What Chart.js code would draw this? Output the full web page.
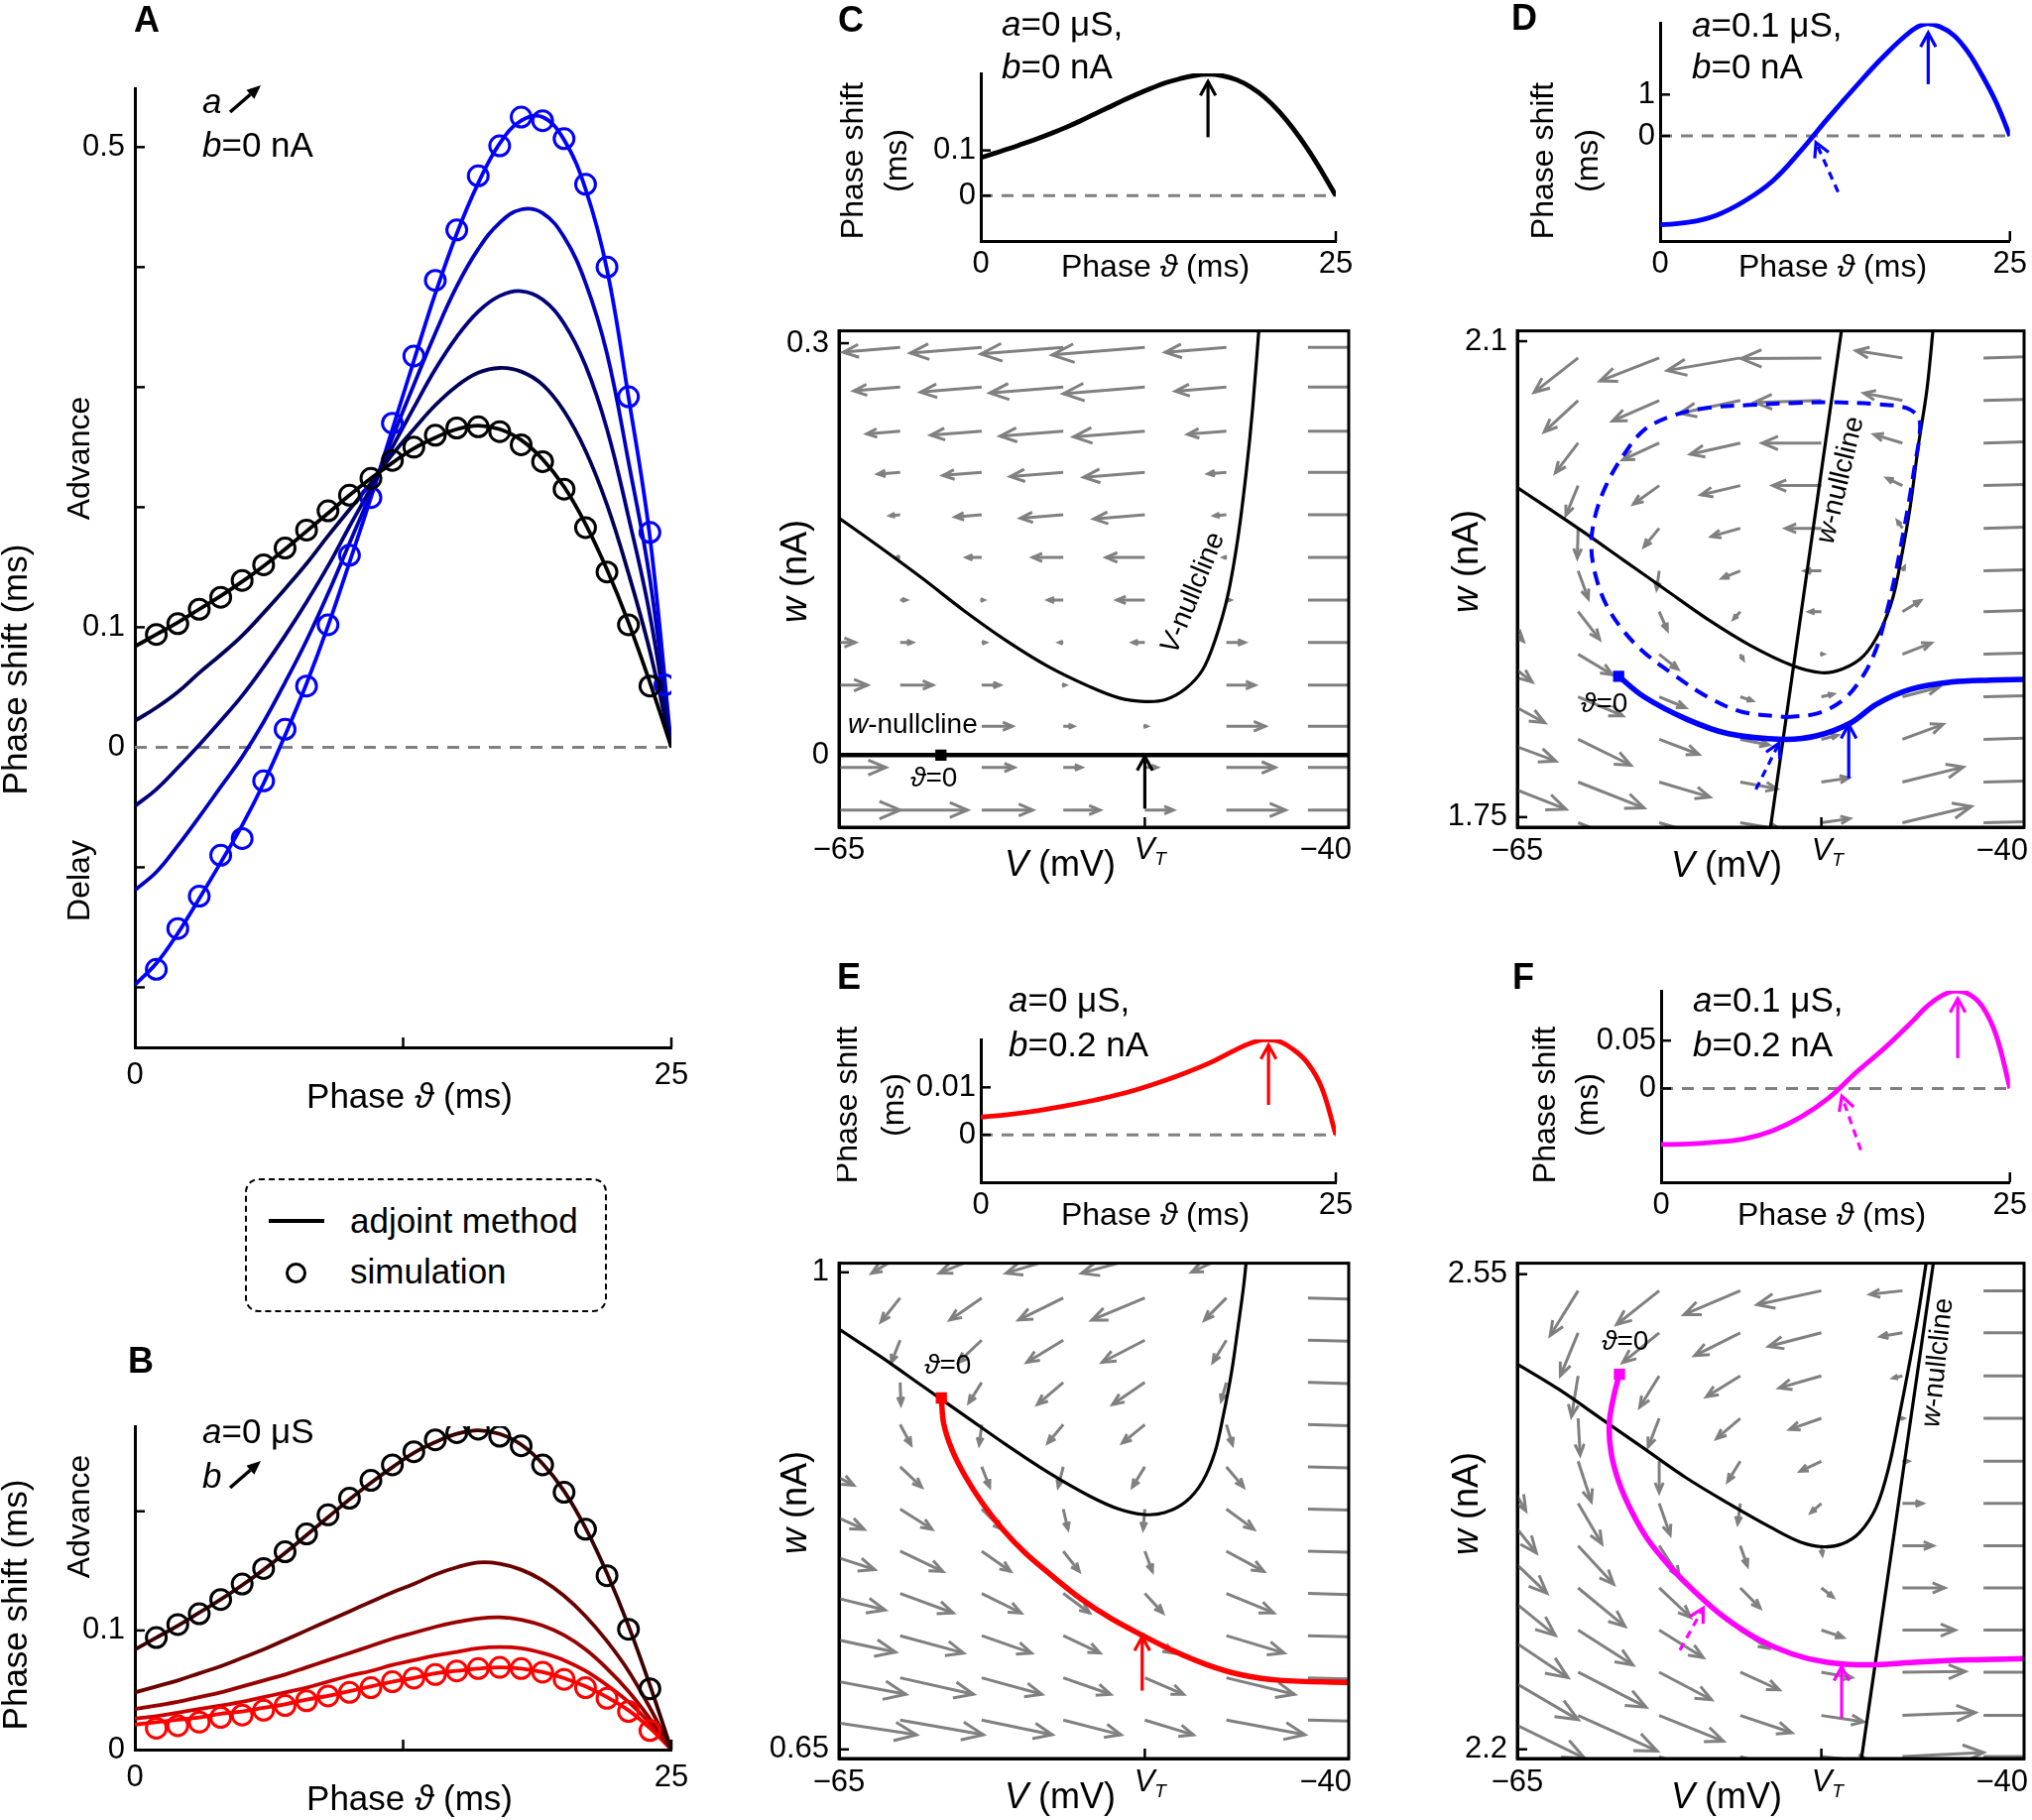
<!DOCTYPE html>
<html>
<head>
<meta charset="utf-8">
<title>Phase response curves and phase planes</title>
<script src="https://cdn.jsdelivr.net/npm/chart.js@4.4.1/dist/chart.umd.min.js"></script>
<style>
  html, body { margin: 0; padding: 0; background: #fff; }
  body { position: relative; width: 2049px; height: 1835px; overflow: hidden;
         font-family: "Liberation Sans", Arial, Helvetica, sans-serif; }
  canvas { position: absolute; }
  .tag { position: absolute; font-weight: bold; font-size: 36px; line-height: 36px; z-index: 5; }
  .ltxt { position: absolute; font-size: 35px; line-height: 35px; z-index: 5; white-space: nowrap; }
  #legend { position: absolute; left: 247px; top: 1188px; width: 365px; height: 135px; box-sizing: border-box;
            border: 2.5px dashed #000; border-radius: 14px; z-index: 4; }
  #legLine { position: absolute; left: 271px; top: 1229px; width: 56px; height: 4px; background: #000; z-index: 5; }
  #legRing { position: absolute; left: 288px; top: 1273px; width: 21px; height: 21px; box-sizing: border-box;
             border: 3px solid #000; border-radius: 50%; z-index: 5; }
</style>
</head>
<body>
<div class="tag" style="left:135px;top:2px">A</div>
<div class="tag" style="left:129px;top:1354px">B</div>
<div class="tag" style="left:845px;top:2px">C</div>
<div class="tag" style="left:1524px;top:0px">D</div>
<div class="tag" style="left:844px;top:967px">E</div>
<div class="tag" style="left:1525px;top:967px">F</div>

<div id="legend"></div>
<div id="legLine"></div>
<div id="legRing"></div>
<div class="ltxt" style="left:353px;top:1213px">adjoint method</div>
<div class="ltxt" style="left:353px;top:1264px">simulation</div>

<script>
// ---------- phase response curves (A, B, top of C-F) ----------
const phaseMs = [0,1,2,3,4,5,6,7,8,9,10,11,12,13,14,15,16,17,18,19,20,21,22,23,24,25];
const simPhase = [1,2,3,4,5,6,7,8,9,10,11,12,13,14,15,16,17,18,19,20,21,22,23,24];
const simPhaseA4 = [1,2,3,4,5,6,7,8,9,10,11,12,13,14,15,16,17,18,19,20,21,22,23,24,24.7];

// A: a increases, b = 0 nA
const shiftA0 = [0.084,0.094,0.104,0.115,0.126,0.138,0.151,0.165,0.180,0.195,0.210,0.224,0.237,0.249,0.258,0.265,0.268,0.265,0.256,0.240,0.217,0.186,0.148,0.104,0.054,0];
const shiftA1 = [0.022,0.033,0.046,0.062,0.077,0.093,0.112,0.132,0.153,0.176,0.198,0.220,0.244,0.265,0.285,0.301,0.312,0.316,0.313,0.302,0.280,0.247,0.202,0.145,0.080,0];
const shiftA2 = [-0.049,-0.035,-0.017,0.002,0.022,0.043,0.067,0.093,0.121,0.151,0.184,0.216,0.250,0.283,0.315,0.342,0.363,0.376,0.380,0.373,0.353,0.318,0.265,0.192,0.110,0];
const shiftA3 = [-0.119,-0.104,-0.082,-0.058,-0.033,-0.008,0.021,0.054,0.089,0.128,0.170,0.212,0.258,0.302,0.345,0.384,0.415,0.437,0.448,0.445,0.425,0.387,0.328,0.238,0.140,0];
const shiftA4 = [-0.198,-0.180,-0.155,-0.126,-0.096,-0.065,-0.030,0.010,0.053,0.101,0.154,0.208,0.265,0.322,0.378,0.428,0.470,0.503,0.522,0.525,0.506,0.465,0.398,0.292,0.175,0];
const simA0 = [0.094,0.103,0.115,0.125,0.139,0.152,0.166,0.181,0.197,0.210,0.224,0.239,0.250,0.260,0.266,0.267,0.263,0.252,0.238,0.215,0.183,0.146,0.102,0.051];
const simA4 = [-0.185,-0.151,-0.124,-0.090,-0.076,-0.028,0.015,0.051,0.102,0.160,0.208,0.270,0.326,0.389,0.431,0.476,0.501,0.525,0.522,0.507,0.469,0.400,0.292,0.179,0.052];

// B: a = 0 uS, b increases
const shiftB1 = [0.048,0.053,0.058,0.064,0.070,0.077,0.084,0.092,0.100,0.108,0.116,0.124,0.132,0.139,0.147,0.153,0.157,0.156,0.151,0.142,0.129,0.112,0.091,0.066,0.035,0];
const shiftB2 = [0.034,0.037,0.040,0.044,0.048,0.053,0.058,0.063,0.069,0.075,0.081,0.087,0.093,0.098,0.103,0.107,0.110,0.111,0.109,0.104,0.096,0.084,0.068,0.049,0.026,0];
const shiftB3 = [0.026,0.028,0.031,0.034,0.037,0.040,0.044,0.048,0.052,0.057,0.062,0.066,0.071,0.075,0.079,0.082,0.085,0.086,0.085,0.081,0.075,0.066,0.054,0.040,0.022,0];
const shiftB4 = [0.021,0.023,0.025,0.027,0.030,0.032,0.035,0.038,0.042,0.045,0.049,0.053,0.057,0.060,0.064,0.066,0.068,0.069,0.068,0.065,0.060,0.053,0.044,0.033,0.018,0];
const simB0 = [0.094,0.105,0.114,0.126,0.139,0.152,0.166,0.181,0.197,0.211,0.226,0.239,0.250,0.260,0.266,0.269,0.263,0.255,0.239,0.216,0.185,0.146,0.101,0.051];
const simB4 = [0.018,0.020,0.023,0.027,0.029,0.033,0.037,0.041,0.045,0.048,0.052,0.057,0.060,0.063,0.066,0.068,0.069,0.068,0.065,0.059,0.052,0.043,0.032,0.016];

// small PRCs above the phase planes (C uses shiftA0)
const phaseTop = [0,2,4,6,8,10,12,14,16,18,19,20,21,22,23,24,25];
const shiftD = [-2.15,-2.09,-1.92,-1.58,-1.10,-0.38,0.43,1.20,1.93,2.55,2.71,2.64,2.43,2.03,1.47,0.82,0];
const shiftE = [0.0037,0.0043,0.0051,0.0061,0.0073,0.0087,0.0105,0.0126,0.0150,0.0180,0.0193,0.0201,0.0197,0.0180,0.0152,0.0100,0];
const shiftF = [-0.0585,-0.0580,-0.0560,-0.0525,-0.0440,-0.0300,-0.0100,0.0170,0.0420,0.0700,0.0850,0.0960,0.1015,0.0990,0.0860,0.0560,0];
// arrows on the small PRCs: [x0, y0, x1, y1]
const peakC = [16.0, 0.129, 16.0, 0.252];
const peakD = [19.16, 1.25, 19.16, 2.49];
const zeroD = [12.72, -1.355, 11.14, -0.16];
const peakE = [20.26, 0.0063, 20.26, 0.0189];
const peakF = [21.26, 0.0317, 21.26, 0.094];
const zeroF = [14.31, -0.0644, 12.95, -0.0081];

// ---------- phase planes ----------
const gridV = [-66,-62,-58,-54,-50,-46,-42];

const vnullC_V = [-65,-62.95,-60.9,-58.85,-56.8,-54.75,-52.7,-51.27,-50,-49.0,-48.0,-47.17,-46.56,-45.94,-45.43,-45.02,-44.71,-44.33];
const vnullC_w = [0.1727,0.151,0.1286,0.105,0.0834,0.0646,0.0498,0.0417,0.039,0.0403,0.0484,0.062,0.0834,0.1157,0.1587,0.207,0.253,0.325];
const wnullC_V = [-65,-40];
const wnullC_w = [0,0];
const startC = [-60, 0];
const pushC = [-50, -0.039, -50, -0.001];
const gridC_w = [0.297,0.268,0.236,0.206,0.175,0.144,0.113,0.082,0.051,0.021,-0.009,-0.040];
const fieldC_dV = [
  [0,-2.79,-3.5,-4.04,-4.55,-3.0,6],
  [0,-2.27,-3.0,-3.6,-4.0,-2.5,6],
  [0,-1.64,-2.5,-3.1,-3.5,-1.9,6],
  [0,-1.1,-1.9,-2.6,-3.0,-0.9,6],
  [0,-0.5,-1.3,-2.1,-2.5,-0.6,6],
  [0,-0.2,-0.75,-1.5,-1.9,-0.15,6],
  [0.3,0.3,0.1,-0.75,-1.37,0.2,6],
  [1.8,0.6,0.2,-0.2,-0.6,0.9,6],
  [2.4,1.6,0.9,0.1,0,1.4,6],
  [0,0,1.5,0.5,0.1,1.9,6],
  [3.3,0,1.6,0.9,0.6,2.4,6],
  [4.0,3.3,2.5,1.8,1.4,2.9,6]
];
const fieldC_dw = [
  [0,-0.0035,-0.0042,-0.0048,-0.0055,-0.0036,0],
  [0,-0.0027,-0.0036,-0.0043,-0.0048,-0.003,0],
  [0,-0.002,-0.003,-0.0037,-0.0042,-0.0023,0],
  [0,-0.0013,-0.0023,-0.0031,-0.0036,-0.0011,0],
  [0,-0.0006,-0.0016,-0.0025,-0.003,-0.0007,0],
  [0,0,0,0,0,0,0],[0,0,0,0,0,0,0],[0,0,0,0,0,0,0],[0,0,0,0,0,0,0],
  [0,0,0,0,0,0,0],[0,0,0,0,0,0,0],[0,0,0,0,0,0,0]
];

const vnullD_V = [-65,-61.875,-59.79,-57.71,-55.625,-53.54,-51.46,-50,-48.96,-47.92,-47.08,-46.46,-46.04,-45.625,-45.21,-44.79,-44.45];
const vnullD_w = [1.9924,1.9611,1.9393,1.9175,1.8957,1.8766,1.8617,1.8562,1.8589,1.8685,1.8875,1.912,1.942,1.9774,2.0237,2.0646,2.115];
const wnullD_V = [-52.58,-48.94];
const wnullD_w = [1.735,2.115];
const loopD_V = [-51.77,-50.21,-48.96,-48.02,-47.29,-46.77,-46.35,-46.0,-45.67,-45.375,-45.15,-45.21,-45.83,-47.29,-49.375,-51.46,-53.54,-55.625,-57.29,-58.75,-59.79,-60.625,-61.15,-61.35,-61.15,-60.625,-59.79,-58.75,-57.29,-55.625,-53.96,-51.77];
const loopD_w = [1.8235,1.8262,1.8358,1.8521,1.8739,1.9011,1.9284,1.9556,1.9829,2.0101,2.0319,2.0442,2.051,2.0537,2.0551,2.0545,2.0531,2.051,2.0455,2.0346,2.0156,1.9938,1.972,1.9502,1.9284,1.9066,1.8875,1.8712,1.8548,1.8385,1.8276,1.8235];
const trajD_V = [-60.0,-58.75,-56.67,-54.58,-51.875,-50.21,-48.54,-47.29,-45.625,-43.54,-41.67,-40];
const trajD_w = [1.8535,1.8385,1.8222,1.8113,1.8072,1.8099,1.8194,1.8330,1.8439,1.8494,1.8508,1.8513];
const startD = [-60.0, 1.8535];
const pushD = [-48.65, 1.7786, -48.65, 1.8181];
const pushDzero = [-53.23, 1.7704, -52.08, 1.8045];
const gridD_w = [2.0877,2.0564,2.0251,1.9938,1.9624,1.9311,1.9011,1.8698,1.8385,1.8072,1.7758,1.7459];
const fieldD_dV = [
  [0,-2.17,-2.92,-3.6,-3.96,-2.3,5],
  [0,-1.67,-2.3,-2.98,-3.3,-1.9,5],
  [0,-1.12,-1.8,-2.46,-2.92,-1.4,5],
  [0,-0.6,-1.27,-1.94,-2.4,-0.77,5],
  [0,-0.04,-0.75,-1.42,-1.77,-0.25,5],
  [0.5,0.5,-0.125,-0.9,-0.83,0.1,5],
  [1.3,1.06,0.4,-0.33,-0.6,0.9,5],
  [1.73,1.69,0.92,0.15,0.1,1.42,5],
  [2.35,2.2,1.3,0.6,0.6,1.8,5],
  [2.9,2.6,1.95,1.4,0.8,2.0,5],
  [3.4,3.25,2.5,1.8,1.35,3.0,5],
  [3.9,3.5,2.8,2.0,1.4,3.4,5]
];
const fieldD_dw = [
  [0,-0.0253,-0.0169,-0.0093,-0.0005,0.0054,0.002],
  [0,-0.023,-0.015,-0.0095,-0.0014,0.0054,0.002],
  [0,-0.0218,-0.0123,-0.0082,0,0.0063,0.002],
  [0,-0.0218,-0.0136,-0.0068,0,0.0054,0.002],
  [0,-0.0218,-0.0136,-0.006,0,0.0054,0.002],
  [-0.02,-0.0204,-0.0136,-0.0054,0,0.003,0.002],
  [-0.0218,-0.0204,-0.0136,-0.0054,0,0.0082,0.002],
  [-0.0204,-0.015,-0.0109,-0.004,0,0.0082,0.002],
  [-0.019,-0.014,-0.008,-0.003,0.002,0.007,0.002],
  [-0.016,-0.019,-0.011,-0.004,0.003,0.011,0.002],
  [-0.02,-0.019,-0.011,-0.005,0.003,0.011,0.002],
  [-0.022,-0.02,-0.012,-0.005,0.003,0.012,0.002]
];

const vnullE_V = [-65,-62.95,-60.9,-58.85,-56.8,-54.75,-52.7,-51.27,-50.04,-49.02,-47.99,-47.17,-46.56,-46.15,-45.74,-45.43,-45.16,-44.98];
const vnullE_w = [0.9583,0.9381,0.9165,0.8950,0.8735,0.8533,0.8358,0.8263,0.8223,0.8237,0.8317,0.8465,0.8681,0.8950,0.9273,0.9596,0.9892,1.015];
const trajE_V = [-59.98,-59.86,-59.45,-58.81,-58.0,-57.02,-55.89,-54.59,-53.13,-51.67,-50.13,-48.59,-46.97,-45.35,-43.4,-40.0];
const trajE_w = [0.9078,0.8887,0.8696,0.8505,0.8314,0.8123,0.7944,0.7778,0.7604,0.7461,0.7337,0.7222,0.7122,0.7050,0.7007,0.6991];
const startE = [-59.98, 0.9078];
const pushE = [-50.13, 0.6931, -50.13, 0.7326];
const gridE_w = [1.0121,0.9812,0.9502,0.9192,0.8883,0.8573,0.8263,0.7954,0.7644,0.7334,0.7025,0.6715];
const fieldE_dV = [
  [0,-1.39,-2.07,-2.8,-3.1,-1.7,5],
  [0,-0.94,-1.56,-2.19,-2.6,-1.07,5],
  [0,-0.43,-1.15,-1.78,-2.09,-0.66,5],
  [0,0.04,-0.63,-1.27,-1.58,-0.25,5],
  [0.9,0.53,-0.12,-0.76,-1.1,0.3,5],
  [1.72,1.05,0.39,-0.25,-0.61,0.84,5],
  [2.23,1.56,1.0,0.23,-0.08,1.35,5],
  [2.75,2.09,1.41,0.78,0.37,1.84,5],
  [3.26,2.6,1.93,1.29,0.88,2.32,5],
  [3.77,3.11,2.44,1.8,1.39,2.83,5],
  [4.28,3.6,2.95,2.32,1.9,3.34,5],
  [4.8,4.08,3.46,2.83,2.38,3.85,5]
];
const fieldE_dw = [
  [0,-0.0127,-0.0127,-0.0127,-0.0127,-0.012,-0.002],
  [0,-0.0175,-0.0162,-0.0162,-0.0162,-0.0162,-0.002],
  [0,-0.0162,-0.0162,-0.0162,-0.0162,-0.0162,-0.002],
  [0,-0.0162,-0.0148,-0.0162,-0.0162,-0.0135,-0.002],
  [-0.015,-0.0148,-0.0148,-0.0135,-0.0135,-0.0148,-0.002],
  [-0.0135,-0.0148,-0.0148,-0.0148,-0.0148,-0.0148,-0.002],
  [-0.0148,-0.0148,-0.0148,-0.0148,-0.0148,-0.0148,-0.002],
  [-0.0135,-0.0148,-0.0148,-0.0148,-0.0148,-0.0148,-0.002],
  [-0.0121,-0.0143,-0.0143,-0.0143,-0.0143,-0.0143,-0.002],
  [-0.0121,-0.0127,-0.0127,-0.0127,-0.0127,-0.0127,-0.002],
  [-0.0121,-0.0121,-0.0121,-0.0121,-0.0121,-0.0121,-0.002],
  [-0.0108,-0.0108,-0.0108,-0.0108,-0.0108,-0.0108,-0.002]
];

const vnullF_V = [-65,-62.92,-60.83,-58.75,-56.67,-54.58,-52.5,-51.04,-49.9,-48.96,-48.125,-47.29,-46.67,-46.15,-45.625,-45.21,-44.76];
const vnullF_w = [2.4838,2.4649,2.4432,2.4216,2.4000,2.3811,2.3635,2.3527,2.3492,2.3514,2.3595,2.3784,2.4081,2.4459,2.4865,2.5216,2.565];
const wnullF_V = [-48.1,-44.4];
const wnullF_w = [2.185,2.566];
const trajF_V = [-59.96,-60.21,-60.46,-60.375,-60.0,-59.375,-58.54,-57.5,-56.25,-54.79,-53.125,-51.46,-49.79,-47.71,-45.21,-42.71,-40];
const trajF_w = [2.4762,2.4622,2.4405,2.4189,2.3973,2.3757,2.3541,2.3351,2.3162,2.2973,2.2811,2.2703,2.2643,2.2622,2.2643,2.2659,2.2668];
const startF = [-59.96, 2.4762];
const pushF = [-49.0, 2.223, -49.0, 2.2608];
const pushFzero = [-56.98, 2.273, -55.83, 2.304];
const gridF_w = [2.5378,2.5068,2.4751,2.4438,2.4122,2.3811,2.35,2.3189,2.2878,2.2568,2.2249,2.1946];
const fieldF_dV = [
  [0,-1.375,-2.1,-2.77,-3.17,-1.6,4],
  [0,-0.875,-1.8,-2.25,-2.6,-1.08,4],
  [0,-0.33,-0.96,-1.67,-2.08,-0.46,4],
  [0,0.1,-0.54,-1.17,-1.56,0.05,4],
  [1.42,0.65,0,-0.62,-1.04,0.3,4],
  [1.94,1.17,0.54,-0.125,-0.52,1.0,4],
  [2.46,1.75,1.0,0.35,0.05,1.52,4],
  [2.875,2.31,1.54,0.98,0.58,2.08,4],
  [3.5,2.7,2.17,1.4,1.08,2.6,4],
  [4.0,3.35,2.58,1.92,1.5,3.1,4],
  [4.33,3.9,3.17,2.54,2.08,3.6,4],
  [4.6,4.3,3.6,3.0,2.5,4.0,4]
];
const fieldF_dw = [
  [0,-0.033,-0.0249,-0.0176,-0.0103,-0.0027,0],
  [0,-0.0316,-0.022,-0.0168,-0.01,-0.0027,0],
  [0,-0.03,-0.023,-0.0154,-0.0089,-0.0016,0],
  [0,-0.027,-0.021,-0.0149,-0.0081,0,0],
  [-0.0365,-0.0297,-0.023,-0.0149,-0.0073,0,0],
  [-0.0365,-0.0297,-0.023,-0.0149,-0.0068,0,0],
  [-0.035,-0.0284,-0.023,-0.0149,-0.0068,0,0],
  [-0.035,-0.0284,-0.0216,-0.0149,-0.0068,0,0],
  [-0.035,-0.0257,-0.0203,-0.0135,-0.0054,0,0],
  [-0.035,-0.0257,-0.0203,-0.013,-0.004,0.0005,0],
  [-0.0316,-0.0262,-0.019,-0.0127,-0.0046,0.0022,0],
  [-0.03,-0.026,-0.019,-0.012,-0.004,0.003,0]
];

// ---------- drawing helpers ----------
const FONT = '"Liberation Sans", "DejaVu Sans", Arial, sans-serif';
Chart.defaults.font.family = FONT;
const BLUE = '#0000ff', RED = '#ff0000', MAG = '#ff00ff', GREY = '#808080';
const colA = ['#000000','#000058','#000080','#0000c0','#0000ff'];
const colB = ['#3a0000','#6b0000','#990000','#cc0000','#ff0000'];
const SMOOTH = { tension: 0.35 };
const PRC = { tension: 0.4 };

const pts = (xs, ys) => xs.map((v, i) => ({ x: v, y: ys[i] }));
function curve(xs, ys, color, width, more) {
  return Object.assign({ data: pts(xs, ys), showLine: true, borderColor: color, borderWidth: width,
    pointRadius: 0, fill: false, tension: 0, order: 2 }, more || {});
}
function rings(xs, ys, color) {
  return { data: pts(xs, ys), showLine: false, pointStyle: 'circle', pointRadius: 10, borderWidth: 3,
    borderColor: color, backgroundColor: 'rgba(0,0,0,0)', order: 1 };
}
function marker(p, color) {
  return { data: [{ x: p[0], y: p[1] }], showLine: false, pointStyle: 'rect', pointRadius: 8,
    borderWidth: 0, backgroundColor: color, order: 0 };
}

function openArrow(ctx, x0, y0, x1, y1, head, ang, dash) {
  ctx.setLineDash(dash || []);
  ctx.beginPath(); ctx.moveTo(x0, y0); ctx.lineTo(x1, y1); ctx.stroke();
  ctx.setLineDash([]);
  const t = Math.atan2(y1 - y0, x1 - x0);
  ctx.beginPath();
  ctx.moveTo(x1 - head * Math.cos(t - ang), y1 - head * Math.sin(t - ang));
  ctx.lineTo(x1, y1);
  ctx.lineTo(x1 - head * Math.cos(t + ang), y1 - head * Math.sin(t + ang));
  ctx.stroke();
}
function solidArrow(ctx, x0, y0, x1, y1) {
  const t = Math.atan2(y1 - y0, x1 - x0), h = 14, hw = 6;
  const bx = x1 - h * Math.cos(t), by = y1 - h * Math.sin(t);
  ctx.lineWidth = 3.5;
  ctx.beginPath(); ctx.moveTo(x0, y0); ctx.lineTo(bx, by); ctx.stroke();
  ctx.beginPath(); ctx.moveTo(x1, y1);
  ctx.lineTo(bx - hw * Math.sin(t), by + hw * Math.cos(t));
  ctx.lineTo(bx + hw * Math.sin(t), by - hw * Math.cos(t));
  ctx.closePath(); ctx.fill();
}
// *x* = italic, ~x~ = italic subscript
function richText(ctx, str, x, y, size, align, rot) {
  const parts = str.split(/(\*[^*]+\*|~[^~]+~)/).filter(Boolean).map(p =>
    p[0] === '*' ? { t: p.slice(1, -1), it: true, sub: false } :
    p[0] === '~' ? { t: p.slice(1, -1), it: true, sub: true } : { t: p, it: false, sub: false });
  const fontOf = p => (p.it ? 'italic ' : '') + (p.sub ? Math.round(size * 0.62) : size) + 'px ' + FONT;
  ctx.save();
  ctx.translate(x, y);
  if (rot) ctx.rotate(rot * Math.PI / 180);
  ctx.textBaseline = 'middle'; ctx.textAlign = 'left'; ctx.fillStyle = '#000';
  let total = 0;
  parts.forEach(p => { ctx.font = fontOf(p); p.w = ctx.measureText(p.t).width; total += p.w; });
  let cx = align === 'center' ? -total / 2 : align === 'right' ? -total : align === 'first' ? -parts[0].w / 2 : 0;
  parts.forEach(p => { ctx.font = fontOf(p); ctx.fillText(p.t, cx, p.sub ? size * 0.32 : 0); cx += p.w; });
  ctx.restore();
}

const EXTRA = {};
const extras = {
  id: 'extras',
  beforeDatasetsDraw(chart) {
    const e = EXTRA[chart.canvas.id]; if (!e) return;
    const { ctx, chartArea: a, scales: { x, y } } = chart;
    ctx.save();
    ctx.beginPath(); ctx.rect(a.left, a.top, a.right - a.left, a.bottom - a.top); ctx.clip();
    if (e.zero) {
      const py = y.getPixelForValue(0);
      ctx.strokeStyle = GREY; ctx.lineWidth = 3; ctx.setLineDash([12, 9]);
      ctx.beginPath(); ctx.moveTo(a.left, py); ctx.lineTo(a.right, py); ctx.stroke();
      ctx.setLineDash([]);
    }
    if (e.quiver) {
      const q = e.quiver;
      ctx.strokeStyle = GREY; ctx.lineWidth = 3; ctx.lineCap = 'butt';
      q.w.forEach((wv, i) => q.V.forEach((vv, j) => {
        const dv = q.dV[i][j], dw = q.dw[i][j];
        if (dv === 0 && dw === 0) return;
        const x0 = x.getPixelForValue(vv), y0 = y.getPixelForValue(wv);
        const x1 = x.getPixelForValue(vv + dv), y1 = y.getPixelForValue(wv + dw);
        const len = Math.hypot(x1 - x0, y1 - y0);
        openArrow(ctx, x0, y0, x1, y1, Math.min(0.24 * len + 3, 24), 0.4);
      }));
    }
    ctx.restore();
  },
  afterDatasetsDraw(chart) {
    const e = EXTRA[chart.canvas.id]; if (!e) return;
    const { ctx, chartArea: a, scales: { x, y } } = chart;
    ctx.save();
    ctx.strokeStyle = '#000'; ctx.fillStyle = '#000';
    if (e.box) { ctx.lineWidth = 3; ctx.strokeRect(a.left, a.top, a.right - a.left, a.bottom - a.top); }
    ctx.lineWidth = 2.5;
    (e.xTicks || []).forEach(v => {
      const px = x.getPixelForValue(v);
      ctx.beginPath(); ctx.moveTo(px, a.bottom); ctx.lineTo(px, a.bottom - 10); ctx.stroke();
    });
    (e.yTicks || []).forEach(v => {
      const py = y.getPixelForValue(v);
      ctx.beginPath(); ctx.moveTo(a.left, py); ctx.lineTo(a.left + 10, py); ctx.stroke();
    });
    (e.arrows || []).forEach(ar => {
      const p = ar.p;
      ctx.strokeStyle = ar.color; ctx.lineWidth = 3.2;
      openArrow(ctx, x.getPixelForValue(p[0]), y.getPixelForValue(p[1]),
        x.getPixelForValue(p[2]), y.getPixelForValue(p[3]), 16, 0.5, ar.dash);
    });
    ctx.strokeStyle = '#000'; ctx.fillStyle = '#000';
    (e.pxArrows || []).forEach(ar => solidArrow(ctx, ar[0] - e.ox, ar[1] - e.oy, ar[2] - e.ox, ar[3] - e.oy));
    (e.texts || []).forEach(t => richText(ctx, t.s, t.x - e.ox, t.y - e.oy, t.size || 31, t.align, t.rot));
    ctx.restore();
  }
};

function axisCfg(ax, room, isX) {
  return {
    type: 'linear', min: ax.min, max: ax.max,
    afterFit: s => { if (isX) s.height = room; else s.width = room; },
    afterBuildTicks: s => { s.ticks = ax.ticks.map(v => ({ value: v })); },
    ticks: { autoSkip: false, maxRotation: 0, minRotation: 0, padding: ax.pad, color: '#000',
             font: { size: 31 }, callback: (v, i) => ax.labels[i] },
    grid: { display: false, drawTicks: false },
    border: { display: true, color: '#000', width: 3 }
  };
}

function makePanel(id, box, pad, cfg) {
  const cv = document.createElement('canvas');
  const W = box.r - box.l + pad.l + pad.r, H = box.b - box.t + pad.t + pad.b;
  const left = box.l - pad.l, top = box.t - pad.t;
  cv.id = id; cv.width = W; cv.height = H;
  cv.style.left = left + 'px'; cv.style.top = top + 'px';
  cv.style.width = W + 'px'; cv.style.height = H + 'px';
  document.body.appendChild(cv);
  EXTRA[id] = Object.assign({ ox: left, oy: top }, cfg.extra);
  return new Chart(cv, {
    type: 'scatter',
    data: { datasets: cfg.datasets },
    options: {
      responsive: false, animation: false, devicePixelRatio: 1, events: [],
      layout: { padding: { left: 0, top: pad.t, right: pad.r, bottom: 0 } },
      plugins: { legend: { display: false }, tooltip: { enabled: false } },
      scales: { x: axisCfg(cfg.x, pad.b, true), y: axisCfg(cfg.y, pad.l, false) }
    },
    plugins: [extras]
  });
}

// ---------- A ----------
makePanel('prcA', { l: 136, t: 89, r: 677, b: 1056 }, { l: 136, t: 89, r: 40, b: 70 }, {
  x: { min: 0, max: 25, ticks: [0, 12.5, 25], labels: ['0', '', '25'], pad: 10 },
  y: { min: -0.25, max: 0.549, ticks: [-0.2, -0.1, 0, 0.1, 0.2, 0.3, 0.4, 0.5],
       labels: ['', '', '0', '0.1', '', '', '', '0.5'], pad: 10 },
  datasets: [
    rings(simPhase, simA0, '#000000'),
    rings(simPhaseA4, simA4, BLUE),
    curve(phaseMs, shiftA0, colA[0], 3.8, PRC),
    curve(phaseMs, shiftA1, colA[1], 3.8, PRC),
    curve(phaseMs, shiftA2, colA[2], 3.8, PRC),
    curve(phaseMs, shiftA3, colA[3], 3.8, PRC),
    curve(phaseMs, shiftA4, colA[4], 3.8, PRC)
  ],
  extra: {
    zero: true, xTicks: [12.5, 25], yTicks: [-0.2, -0.1, 0.1, 0.2, 0.3, 0.4, 0.5],
    pxArrows: [[232, 113, 263, 86]],
    texts: [
      { s: '*a*', x: 204, y: 104, size: 35 },
      { s: '*b*=0 nA', x: 204, y: 148, size: 35 },
      { s: 'Phase shift (ms)', x: 17, y: 675, size: 35, align: 'center', rot: -90 },
      { s: 'Advance', x: 81, y: 462, size: 32, align: 'center', rot: -90 },
      { s: 'Delay', x: 81, y: 888, size: 32, align: 'center', rot: -90 },
      { s: 'Phase *ϑ* (ms)', x: 413, y: 1107, size: 35, align: 'center' }
    ]
  }
});

// ---------- B ----------
makePanel('prcB', { l: 136, t: 1438, r: 677, b: 1764 }, { l: 136, t: 60, r: 40, b: 71 }, {
  x: { min: 0, max: 25, ticks: [0, 12.5, 25], labels: ['0', '', '25'], pad: 10 },
  y: { min: 0, max: 0.2714, ticks: [0, 0.1, 0.2], labels: ['0', '0.1', ''], pad: 10 },
  datasets: [
    rings(simPhase, simB0, '#000000'),
    rings(simPhase, simB4, RED),
    curve(phaseMs, shiftA0, colB[0], 3.8, PRC),
    curve(phaseMs, shiftB1, colB[1], 3.8, PRC),
    curve(phaseMs, shiftB2, colB[2], 3.8, PRC),
    curve(phaseMs, shiftB3, colB[3], 3.8, PRC),
    curve(phaseMs, shiftB4, colB[4], 3.8, PRC)
  ],
  extra: {
    xTicks: [12.5, 25], yTicks: [0.1, 0.2],
    pxArrows: [[232, 1500, 263, 1473]],
    texts: [
      { s: '*a*=0 μS', x: 204, y: 1445, size: 35 },
      { s: '*b*', x: 204, y: 1490, size: 35 },
      { s: 'Phase shift (ms)', x: 17, y: 1618, size: 35, align: 'center', rot: -90 },
      { s: 'Advance', x: 81, y: 1529, size: 32, align: 'center', rot: -90 },
      { s: 'Phase *ϑ* (ms)', x: 413, y: 1815, size: 35, align: 'center' }
    ]
  }
});

// ---------- small PRCs ----------
function smallPrc(id, box, pad, y, ys, xs, color, arrows, texts, ylab) {
  makePanel(id, box, pad, {
    x: { min: 0, max: 25, ticks: [0, 25], labels: ['0', '25'], pad: 5 },
    y: y,
    datasets: [curve(xs, ys, color, 4.8, PRC)],
    extra: {
      zero: true, xTicks: [25], yTicks: y.ticks, arrows: arrows,
      texts: texts.concat([
        { s: 'Phase shift', x: ylab[0], y: ylab[2], size: 32, align: 'center', rot: -90 },
        { s: '(ms)', x: ylab[1], y: ylab[2], size: 32, align: 'center', rot: -90 },
        { s: 'Phase *ϑ* (ms)', x: ylab[3], y: ylab[4], size: 32, align: 'center' }
      ])
    }
  });
}
smallPrc('prcC', { l: 989, t: 74, r: 1347, b: 243 }, { l: 145, t: 74, r: 40, b: 50 },
  { min: -0.1, max: 0.27, ticks: [0, 0.1], labels: ['0', '0.1'], pad: 5 },
  shiftA0, phaseMs, '#000000', [{ p: peakC, color: '#000000' }],
  [{ s: '*a*=0 μS,', x: 1010, y: 26, size: 35 }, { s: '*b*=0 nA', x: 1010, y: 69, size: 35 }],
  [861, 905, 162, 1165, 270]);
smallPrc('prcD', { l: 1674, t: 4, r: 2031, b: 243 }, { l: 145, t: 4, r: 18, b: 50 },
  { min: -2.54, max: 2.72, ticks: [0, 1], labels: ['0', '1'], pad: 5 },
  shiftD, phaseTop, BLUE, [{ p: peakD, color: BLUE }, { p: zeroD, color: BLUE, dash: [8, 6] }],
  [{ s: '*a*=0.1 μS,', x: 1706, y: 27, size: 35 }, { s: '*b*=0 nA', x: 1706, y: 69, size: 35 }],
  [1557, 1602, 162, 1848, 270]);
smallPrc('prcE', { l: 989, t: 1048, r: 1347, b: 1192 }, { l: 145, t: 100, r: 40, b: 50 },
  { min: -0.01, max: 0.0201, ticks: [0, 0.01], labels: ['0', '0.01'], pad: 5 },
  shiftE, phaseTop, RED, [{ p: peakE, color: RED }],
  [{ s: '*a*=0 μS,', x: 1017, y: 1010, size: 35 }, { s: '*b*=0.2 nA', x: 1017, y: 1055, size: 35 }],
  [855, 902, 1114, 1165, 1226]);
smallPrc('prcF', { l: 1675, t: 999, r: 2032, b: 1192 }, { l: 145, t: 50, r: 17, b: 50 },
  { min: -0.098, max: 0.102, ticks: [0, 0.05], labels: ['0', '0.05'], pad: 5 },
  shiftF, phaseTop, MAG, [{ p: peakF, color: MAG }, { p: zeroF, color: MAG, dash: [8, 6] }],
  [{ s: '*a*=0.1 μS,', x: 1707, y: 1010, size: 35 }, { s: '*b*=0.2 nA', x: 1707, y: 1055, size: 35 }],
  [1559, 1602, 1114, 1847, 1226]);

// ---------- phase planes ----------
function plane(id, box, pad, y, datasets, quiver, arrows, texts, labY, vtX, wlab) {
  makePanel(id, box, pad, {
    x: { min: -65, max: -40, ticks: [-65, -50, -40], labels: ['', '', ''], pad: 5 },
    y: y,
    datasets: datasets,
    extra: {
      box: true, xTicks: [-50], yTicks: y.ticks, quiver: quiver, arrows: arrows,
      texts: texts.concat([
        { s: '*w* (nA)', x: wlab[0], y: wlab[1], size: 36, align: 'center', rot: -90 },
        { s: '*V* (mV)', x: wlab[2], y: labY + 16, size: 36, align: 'center' },
        { s: '−65', x: box.l, y: labY, size: 31, align: 'center' },
        { s: '−40', x: box.r + 3, y: labY, size: 31, align: 'right' },
        { s: '*V*~T~', x: vtX, y: labY, size: 31, align: 'first' }
      ])
    }
  });
}

plane('ppC', { l: 846, t: 325, r: 1360, b: 834 }, { l: 80, t: 20, r: 20, b: 70 },
  { min: -0.0525, max: 0.309, ticks: [0, 0.3], labels: ['0', '0.3'], pad: 10 },
  [
    marker(startC, '#000000'),
    curve(wnullC_V, wnullC_w, '#000000', 4.5),
    curve(vnullC_V, vnullC_w, '#000000', 3.2, SMOOTH)
  ],
  { w: gridC_w, V: gridV, dV: fieldC_dV, dw: fieldC_dw },
  [{ p: pushC, color: '#000000' }],
  [
    { s: '*w*-nullcline', x: 855, y: 731, size: 28 },
    { s: '*ϑ*=0', x: 918, y: 785, size: 28 },
    { s: '*V*-nullcline', x: 1203, y: 598, size: 28, align: 'center', rot: -67.7 }
  ], 857, 1154, [803, 576, 1069]);

plane('ppD', { l: 1530, t: 325, r: 2042, b: 834 }, { l: 80, t: 20, r: 7, b: 70 },
  { min: 1.7426, max: 2.1076, ticks: [1.75, 2.1], labels: ['1.75', '2.1'], pad: 10 },
  [
    marker(startD, BLUE),
    curve(trajD_V, trajD_w, BLUE, 5.5, SMOOTH),
    curve(loopD_V, loopD_w, BLUE, 4, { tension: 0.35, borderDash: [14, 9] }),
    curve(wnullD_V, wnullD_w, '#000000', 3.2),
    curve(vnullD_V, vnullD_w, '#000000', 3.2, SMOOTH)
  ],
  { w: gridD_w, V: gridV, dV: fieldD_dV, dw: fieldD_dw },
  [{ p: pushD, color: BLUE }, { p: pushDzero, color: BLUE, dash: [8, 6] }],
  [
    { s: '*ϑ*=0', x: 1594, y: 710, size: 28 },
    { s: '*w*-nullcline', x: 1856, y: 484, size: 28, align: 'center', rot: -76.5 }
  ], 858, 1837, [1480, 566, 1741]);

plane('ppE', { l: 846, t: 1265, r: 1360, b: 1773 }, { l: 80, t: 20, r: 20, b: 62 },
  { min: 0.6433, max: 1.0067, ticks: [0.65, 1], labels: ['0.65', '1'], pad: 10 },
  [
    marker(startE, RED),
    curve(trajE_V, trajE_w, RED, 5.5, SMOOTH),
    curve(vnullE_V, vnullE_w, '#000000', 3.2, SMOOTH)
  ],
  { w: gridE_w, V: gridV, dV: fieldE_dV, dw: fieldE_dw },
  [{ p: pushE, color: RED }],
  [
    { s: '*ϑ*=0', x: 932, y: 1377, size: 28 }
  ], 1797, 1154, [803, 1515, 1069]);

plane('ppF', { l: 1530, t: 1265, r: 2042, b: 1773 }, { l: 80, t: 20, r: 7, b: 62 },
  { min: 2.1932, max: 2.5581, ticks: [2.2, 2.55], labels: ['2.2', '2.55'], pad: 10 },
  [
    marker(startF, MAG),
    curve(trajF_V, trajF_w, MAG, 5.5, SMOOTH),
    curve(wnullF_V, wnullF_w, '#000000', 3.2),
    curve(vnullF_V, vnullF_w, '#000000', 3.2, SMOOTH)
  ],
  { w: gridF_w, V: gridV, dV: fieldF_dV, dw: fieldF_dw },
  [{ p: pushF, color: MAG }, { p: pushFzero, color: MAG, dash: [8, 6] }],
  [
    { s: '*ϑ*=0', x: 1615, y: 1353, size: 28 },
    { s: '*w*-nullcline', x: 1954, y: 1374, size: 28, align: 'center', rot: -84 }
  ], 1797, 1837, [1480, 1516, 1741]);
</script>
</body>
</html>
